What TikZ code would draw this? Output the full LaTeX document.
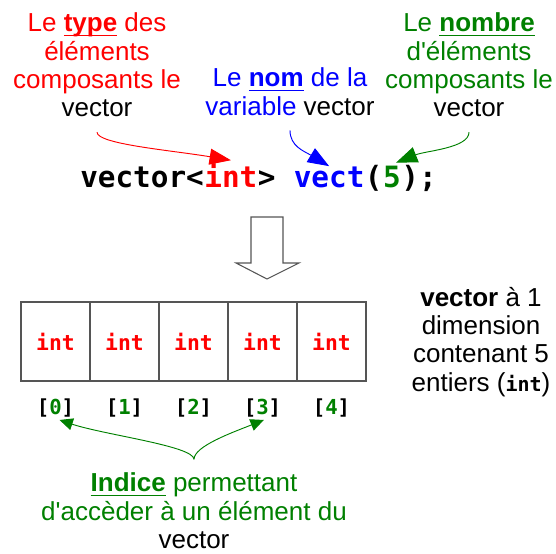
\documentclass[tikz,border=0pt]{standalone}
\usepackage{fontspec}
\setmainfont{Liberation Sans}[Ligatures=TeXOff]
\newfontfamily\codefont{DejaVu Sans Mono}
\usetikzlibrary{positioning,arrows.meta}

\definecolor{typered}{RGB}{255,0,0}
\definecolor{nameblue}{RGB}{0,0,255}
\definecolor{countgreen}{RGB}{0,128,0}
\definecolor{cellgray}{RGB}{85,85,85}

% bold word with a rule under it
\newcommand\keyword[1]{\setbox0\hbox{\bfseries #1}\rlap{\rule[-3.4pt]{\wd0}{1.3pt}}\box0\relax}

\begin{document}
\begin{tikzpicture}[x=0.75pt,y=-0.75pt,
    comment/.style={
% The text:
      align=center,
      font=\fontsize{19.5}{21.3}\selectfont,
      inner sep=2pt
    },
    code/.style={
      anchor=base west, inner sep=0pt,
      font=\codefont\bfseries\fontsize{22}{26}\selectfont
    },
    cell/.style={
% The shape:
      rectangle,
% The size:
      minimum width=51.75pt, minimum height=59.25pt,
% The border:
      draw=cellgray, line width=1.1pt, outer sep=0pt,
% Font
      text=typered, font=\codefont\bfseries\fontsize{16}{18}\selectfont
    },
    index/.style={inner sep=2pt, font=\codefont\bfseries\fontsize{15.5}{17}\selectfont},
    pointer/.style={-{Triangle[length=16pt,width=12pt]}, line width=0.7pt},
    smallpointer/.style={-{Triangle[length=10pt,width=9pt]}, line width=0.7pt}
  ]
  \useasboundingbox (0,0) rectangle (556,553);

  % the three comments above the declaration
  \node [comment, text=typered, anchor=north] (ttype) at (97,10)
    {Le \keyword{type} des\\éléments\\composants le\\\textcolor{black}{vector}};
  \node [comment, text=nameblue, anchor=north] (tname) at (290,65)
    {Le \keyword{nom} de la\\variable \textcolor{black}{vector}};
  \node [comment, text=countgreen, anchor=north] (tcount) at (469,10)
    {Le \keyword{nombre}\\d'éléments\\composants le\\\textcolor{black}{vector}};

  % the declaration
  \node [code] (cvec) at (80,187) {vector<};
  \node [code, text=typered] (cint) at (cvec.base east) {int};
  \node [code] (cgt) at (cint.base east) {>\hphantom{>}};
  \node [code, text=nameblue] (cname) at (cgt.base east) {vect};
  \node [code] (copen) at (cname.base east) {(};
  \node [code, text=countgreen] (cfive) at (copen.base east) {5};
  \node [code] (cclose) at (cfive.base east) {);};

  \draw [pointer, typered, shorten <=9pt] (ttype.south)
    .. controls +(0,24) and +(-60,-10) .. ([yshift=2pt]cint.north);
  \draw [pointer, nameblue, shorten <=9pt] (tname.south)
    .. controls +(0,28) and +(-25,-15) .. (cname.north);
  \draw [pointer, countgreen, shorten <=9pt] (tcount.south)
    .. controls +(0,28) and +(30,-12) .. ([xshift=3pt,yshift=2pt]cfive.north);

  % hollow arrow
  \draw [cellgray, fill=white, line width=0.8pt]
    (251,217) -- (283,217) -- (283,263) -- (299,263) -- (267,279)
    -- (236,263) -- (251,263) -- cycle;

  % the cells
  \node [cell] (cell0) at (55.5,341.5) {int};
  \foreach \i [count=\j from 0] in {1,...,4}
    \node [cell, right=0pt of cell\j] (cell\i) {int};
  \foreach \i in {0,...,4}
    \node [index, below=11pt of cell\i] (ix\i) {[\textcolor{countgreen}{\i}]};

  \node [comment, anchor=north] (tdim) at (481,284)
    {\textbf{vector} à 1\\dimension\\contenant 5\\entiers ({\codefont\bfseries\fontsize{15}{16}\selectfont int})};

  % the index comment
  \node [comment, text=countgreen, anchor=north] (tindex) at (194,470)
    {\keyword{Indice} permettant\\d'accèder à un élément du\\\textcolor{black}{vector}};
  \draw [smallpointer, countgreen, shorten <=8pt] (tindex.north)
    .. controls +(0,-24) and +(45,15) .. ([xshift=3pt]ix0.south);
  \draw [smallpointer, countgreen, shorten <=8pt] (tindex.north)
    .. controls +(0,-24) and +(-30,12) .. ([xshift=1pt]ix3.south);
\end{tikzpicture}
\end{document}
